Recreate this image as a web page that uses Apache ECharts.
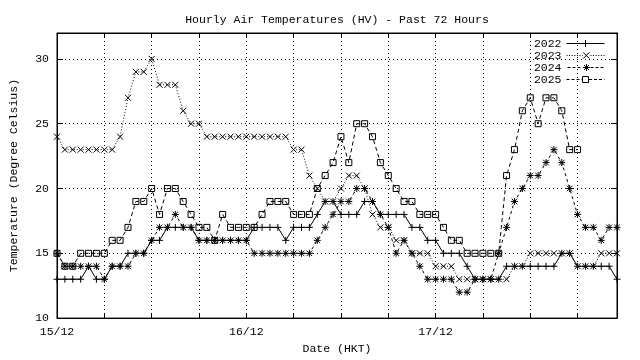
<!DOCTYPE html>
<html>
<head>
<meta charset="utf-8">
<script src="https://cdn.jsdelivr.net/npm/echarts@6/dist/echarts.min.js"></script>
<style>html,body{margin:0;padding:0;background:#fff}#c{width:640px;height:360px}</style>
</head>
<body>
<div id="c"></div>
<script>
// ---- data ----
const days = ['15/12', '16/12', '17/12'];
const yTickLabels = ['10', '15', '20', '25', '30'];
const seriesNames = ['2022', '2023', '2024', '2025'];

const t2022 = [13,13,13,13,14,13,13,14,14,15,15,15,16,16,17,17,17,17,
               16,16,16,16,16,16,16,17,17,17,17,16,17,17,17,18,19,19,
               18,18,18,19,19,18,18,18,18,17,17,16,16,15,15,15,14,13,
               13,13,13,14,14,14,14,14,14,14,15,15,14,14,14,14,14,13];
const t2023 = [24,23,23,23,23,23,23,23,24,27,29,29,30,28,28,28,26,25,
               25,24,24,24,24,24,24,24,24,24,24,24,23,23,21,20,19,19,
               20,21,21,20,18,17,17,16,16,15,15,15,14,14,14,13,13,13,
               13,13,13,13,14,14,15,15,15,15,15,15,14,14,14,15,15,15];
const t2024 = [15,14,14,14,14,14,13,14,14,14,15,15,16,17,17,18,17,17,
               16,16,16,16,16,16,16,15,15,15,15,15,15,15,15,16,17,18,
               19,19,20,20,19,18,17,15,16,15,14,13,13,13,13,12,12,13,
               13,13,15,17,19,20,21,21,22,23,22,20,18,17,17,16,17,17];
const t2025 = [15,14,14,15,15,15,15,16,16,17,19,19,20,18,20,20,19,18,
               17,17,16,18,17,17,17,17,18,19,19,19,18,18,18,20,21,22,
               24,22,25,25,24,22,21,20,19,19,18,18,18,17,16,16,15,15,
               15,15,15,21,23,26,27,25,27,27,26,23,23];

// categories: hourly, starting 15/12 00:00
const hours = [];
days.forEach(d => { for (let h = 0; h < 24; h++) hours.push(d + ' ' + String(h).padStart(2, '0') + ':00'); });

const FONT = 'Liberation Mono';
const symPlus = 'path://M0,5L10,5M5,0L5,10';
const symCross = 'path://M0,0L10,10M10,0L0,10';
const symStar = 'path://M0,5L10,5M5,0L5,10M1,1L9,9M9,1L1,9';
const symSquare = 'path://M0,0L10,0L10,10L0,10Z';

// legend icons: line sample (38 px) with the marker in the middle
function segs(from, to, dash, gap, y) {
  let s = '';
  for (let x = from; x < to; x += dash + gap) s += 'M' + x + ',' + y + 'L' + Math.min(x + dash, to) + ',' + y;
  return s;
}
const Y = 3.5;
const legendIcons = {
  '2022': 'path://M0,' + Y + 'L38,' + Y + 'M19,0L19,7M15.5,' + Y + 'L22.5,' + Y,
  '2023': 'path://' + segs(0, 15.5, 1, 1.5, Y) + segs(23, 38, 1, 1.5, Y) + 'M16,0.5L22,6.5M22,0.5L16,6.5',
  '2024': 'path://' + segs(0, 15, 3, 2, Y) + segs(23, 38, 3, 2, Y) + 'M15.5,' + Y + 'L22.5,' + Y + 'M19,0L19,7M16.5,1L21.5,6M21.5,1L16.5,6',
  '2025': 'path://' + segs(0, 15.5, 3, 2, Y) + segs(22.5, 38, 3, 2, Y) + 'M16,0.5L22,0.5L22,6.5L16,6.5Z'
};

function mk(name, data, sym, size, ltype) {
  return {
    name: name, type: 'line', data: data, xAxisIndex: 0, yAxisIndex: 0,
    symbol: sym, symbolSize: size, showAllSymbol: true,
    itemStyle: { color: 'rgba(0,0,0,0)', borderColor: '#000', borderWidth: 1 },
    lineStyle: { color: '#000', width: 1, type: ltype },
    emphasis: { disabled: true }
  };
}

const chart = echarts.init(document.getElementById('c'), null, { renderer: 'canvas' });
chart.setOption({
  animation: false,
  backgroundColor: '#fff',
  textStyle: { fontFamily: FONT },
  title: {
    text: 'Hourly Air Temperatures (HV) - Past 72 Hours',
    left: 332, top: 9, textAlign: 'center',
    textStyle: { fontFamily: FONT, fontSize: 11.5, fontWeight: 'normal', color: '#000' }
  },
  legend: {
    data: seriesNames.map(n => ({ name: n, icon: legendIcons[n] })),
    orient: 'vertical', right: 35, top: 37.5,
    align: 'right', itemWidth: 38, itemHeight: 7, itemGap: 0, padding: 0,
    symbolKeepAspect: true,
    itemStyle: { color: 'rgba(0,0,0,0)', borderColor: '#000', borderWidth: 1 },
    textStyle: { fontFamily: FONT, fontSize: 11.5, color: '#000', lineHeight: 10.5 },
    selectedMode: false
  },
  grid: { left: 48, top: 33, width: 569, height: 291, show: true, borderColor: '#000', borderWidth: 1, backgroundColor: 'transparent' },
  xAxis: [{
    type: 'category', data: hours, boundaryGap: false, position: 'bottom',
    name: 'Date (HKT)', nameLocation: 'middle', nameGap: 22,
    nameTextStyle: { fontFamily: FONT, fontSize: 11.5, color: '#000' },
    axisLine: { lineStyle: { color: '#000' } },
    axisTick: { inside: true, length: 5, interval: 5, lineStyle: { color: '#000' } },
    axisLabel: {
      interval: (i) => i % 24 === 0, margin: 8,
      formatter: (v, i) => (i % 24 === 0 ? days[i / 24] : ''),
      fontFamily: FONT, fontSize: 11.5, color: '#000'
    },
    splitLine: { show: true, interval: 5, lineStyle: { color: '#000', type: [1, 3], width: 1 } }
  }, {
    type: 'category', data: hours, boundaryGap: false, position: 'top',
    axisLine: { lineStyle: { color: '#000' } },
    axisTick: { inside: true, length: 5, interval: 5, lineStyle: { color: '#000' } },
    axisLabel: { show: false }, splitLine: { show: false }
  }],
  yAxis: [{
    type: 'value', min: 10, max: 32, interval: 5, position: 'left',
    name: 'Temperature (Degree Celsius)', nameLocation: 'middle', nameGap: 37, nameRotate: 90,
    nameTextStyle: { fontFamily: FONT, fontSize: 11.5, color: '#000' },
    axisLine: { show: true, lineStyle: { color: '#000' } },
    axisTick: { show: true, inside: true, length: 6, lineStyle: { color: '#000' } },
    axisLabel: {
      margin: 8, fontFamily: FONT, fontSize: 11.5, color: '#000',
      formatter: (v) => { const s = String(v); return yTickLabels.indexOf(s) >= 0 ? s : ''; }
    },
    splitLine: { show: true, lineStyle: { color: '#000', type: [1, 3], width: 1 } }
  }, {
    type: 'value', min: 10, max: 32, interval: 5, position: 'right',
    axisLine: { show: true, lineStyle: { color: '#000' } },
    axisTick: { show: true, inside: true, length: 6, lineStyle: { color: '#000' } },
    axisLabel: { show: false }, splitLine: { show: false }
  }],
  series: [
    mk('2022', t2022, symPlus, 7, 'solid'),
    mk('2023', t2023, symCross, 6, [1, 2]),
    mk('2024', t2024, symStar, 7, [3, 3]),
    mk('2025', t2025, symSquare, 6, [4, 3])
  ]
});
</script>
</body>
</html>
